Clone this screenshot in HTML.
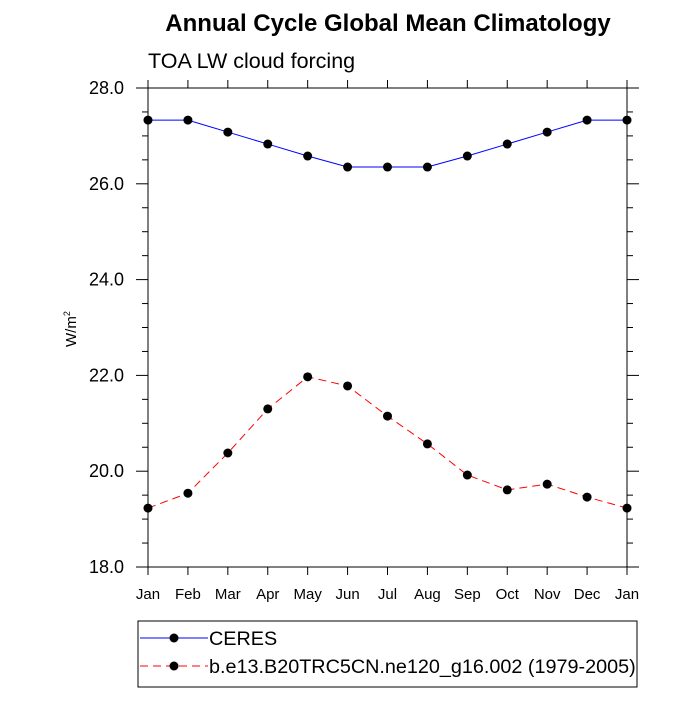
<!DOCTYPE html>
<html><head><meta charset="utf-8"><style>
body{margin:0;background:#fff}
svg text{font-family:"Liberation Sans",sans-serif;fill:#000}
</style></head><body>
<svg id="chart" width="700" height="700"></svg>
<script>
const months=["Jan","Feb","Mar","Apr","May","Jun","Jul","Aug","Sep","Oct","Nov","Dec","Jan"];
const ceres=[27.33,27.33,27.08,26.83,26.58,26.35,26.35,26.35,26.58,26.83,27.08,27.33,27.33];
const model=[19.23,19.54,20.38,21.30,21.97,21.78,21.15,20.57,19.92,19.61,19.73,19.46,19.23];
const yTicks=["18.0","20.0","22.0","24.0","26.0","28.0"];
const NS="http://www.w3.org/2000/svg";
const svg=document.getElementById('chart');
const L=148,R=627,T=88,B=567,ymin=18,ymax=28;
const xs=i=>L+(R-L)*i/(months.length-1);
const ys=v=>B-(v-ymin)/(ymax-ymin)*(B-T);
function el(t,a,p){const e=document.createElementNS(NS,t);for(const k in a)e.setAttribute(k,a[k]);(p||svg).appendChild(e);return e;}
let e;
e=el('text',{x:388,y:31,'text-anchor':'middle','font-size':24,'font-weight':'bold'});e.textContent="Annual Cycle Global Mean Climatology";


e=el('text',{x:148,y:68,'font-size':21.5});e.textContent="TOA LW cloud forcing";


e=el('rect',{x:L,y:T,width:R-L,height:B-T,fill:'none',stroke:'#000','stroke-width':1});


for(let v=ymin;v<=ymax+1e-6;v+=0.5){
 const y=ys(v),major=Math.abs(v%2)<1e-6,len=major?12:6;
 el('line',{x1:L-len,x2:L,y1:y,y2:y,stroke:'#000'});
 el('line',{x1:R,x2:R+len,y1:y,y2:y,stroke:'#000'});
}
yTicks.forEach(t=>{e=el('text',{x:L-24,y:ys(+t)+6,'text-anchor':'end','font-size':18});e.textContent=t;

});
months.forEach((m,i)=>{const x=xs(i);
 el('line',{x1:x,x2:x,y1:B,y2:B+8,stroke:'#000'});el('line',{x1:x,x2:x,y1:T-8,y2:T,stroke:'#000'});
 e=el('text',{x:x,y:B+32,'text-anchor':'middle','font-size':15});e.textContent=m;
 
 });
e=el('text',{x:0,y:0,'font-size':15,transform:'translate(76,347) rotate(-90)'});
e.innerHTML='W/m<tspan font-size="9" dy="-6">2</tspan>';


function series(vals,color,dash,name){
 const g=el('g',{});
 
 
 el('polyline',{points:vals.map((v,i)=>xs(i)+','+ys(v)).join(' '),fill:'none',stroke:color,'stroke-width':1,'stroke-dasharray':dash},g);
 vals.forEach((v,i)=>{const c=el('circle',{cx:xs(i),cy:ys(v),r:4.5,fill:'#000'},g);
 
 });
}
series(ceres,'#0000ff','none','ceres-series');
series(model,'#ff0000','8,5','model-series');
const lg=el('g',{});


el('rect',{x:138,y:621,width:499,height:66,fill:'none',stroke:'#000'},lg);
el('line',{x1:140,x2:208,y1:638,y2:638,stroke:'#0000ff'},lg);
el('circle',{cx:174,cy:638,r:4.5,fill:'#000'},lg);
e=el('text',{x:209,y:645,'font-size':19.8},lg);e.textContent="CERES";


el('line',{x1:140,x2:208,y1:666,y2:666,stroke:'#ff0000','stroke-dasharray':'8,5'},lg);
el('circle',{cx:174,cy:666,r:4.5,fill:'#000'},lg);
e=el('text',{x:209,y:673,'font-size':19.8},lg);e.textContent="b.e13.B20TRC5CN.ne120_g16.002 (1979-2005)";


</script>
</body></html>
